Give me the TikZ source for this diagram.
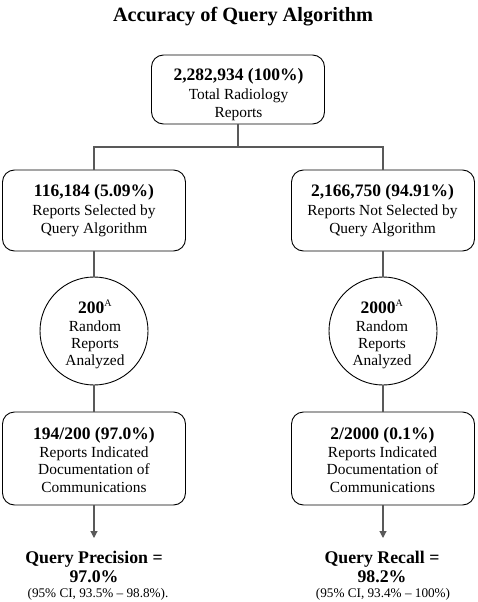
\documentclass[tikz,border=0pt]{standalone}
\usepackage{fontspec}
\setmainfont{Liberation Serif}
\usetikzlibrary{arrows.meta}
\tikzset{
  box/.style={draw=black, line width=0.9pt, rounded corners=12pt, fill=white},
  circ/.style={draw=black, line width=0.9pt, circle, minimum size=108pt, inner sep=0pt, fill=white},
  conn/.style={draw=black!65, line width=1.1pt},
  arr/.style={conn, -{Triangle[length=7pt,width=7pt]}},
  txt/.style={anchor=base, inner sep=0pt},
  bigb/.style={txt, font=\fontsize{17.5}{20}\selectfont\bfseries},
  body/.style={txt, font=\fontsize{15.4}{18}\selectfont},
  res/.style={txt, font=\fontsize{17.8}{20}\selectfont\bfseries},
  ci/.style={txt, font=\fontsize{13.2}{15}\selectfont}
}
\begin{document}
\begin{tikzpicture}[x=1pt,y=-1pt]
\useasboundingbox (0,0) rectangle (478,602);
% title
\node[txt, font=\fontsize{20.3}{24}\selectfont\bfseries] (title) at (243,22) {Accuracy of Query Algorithm};
% boxes
\node[box, minimum width=173pt, minimum height=69pt] (top) at (238,89.5) {};
\node[box, minimum width=183pt, minimum height=81pt] (l1) at (94,210.5) {};
\node[box, minimum width=183pt, minimum height=81pt] (r1) at (383,210.5) {};
\node[circ] (l2) at (94,331) {};
\node[circ] (r2) at (383,331) {};
\node[box, minimum width=183pt, minimum height=93pt] (l3) at (94,458.5) {};
\node[box, minimum width=183pt, minimum height=93pt] (r3) at (383,458.5) {};
\coordinate (split) at (238,147);
\coordinate (lend) at (94,538);
\coordinate (rend) at (383,538);
% connectors
\draw[conn] (top.south) -- (split);
\draw[conn] (l1.north) |- (split) -| (r1.north);
\draw[conn] (l1.south) -- (l2.north);
\draw[conn] (r1.south) -- (r2.north);
\draw[conn] (l2.south) -- (l3.north);
\draw[conn] (r2.south) -- (r3.north);
\draw[arr] (l3.south) -- (lend);
\draw[arr] (r3.south) -- (rend);
% texts top
\node[bigb] at (238.5,80) {2,282,934 (100\%)};
\node[body] at (238.5,99) {Total Radiology};
\node[body] at (238.5,117) {Reports};
% level 1
\node[bigb] at (94,196) {116,184 (5.09\%)};
\node[body] at (94,215) {Reports Selected by};
\node[body] at (94,233) {Query Algorithm};
\node[bigb] at (382.5,196) {2,166,750 (94.91\%)};
\node[body] at (382.5,215) {Reports Not Selected by};
\node[body] at (382.5,233) {Query Algorithm};
% circles
\node[bigb] at (95,313) {200\textsuperscript{\normalfont\fontsize{10}{10}\selectfont A}};
\node[body] at (95,331) {Random};
\node[body] at (95,348) {Reports};
\node[body] at (95,365) {Analyzed};
\node[bigb] at (382,313) {2000\textsuperscript{\normalfont\fontsize{10}{10}\selectfont A}};
\node[body] at (382,331) {Random};
\node[body] at (382,348) {Reports};
\node[body] at (382,365) {Analyzed};
% level 3
\node[bigb] at (94,439) {194/200 (97.0\%)};
\node[body] at (94,457) {Reports Indicated};
\node[body] at (94,474) {Documentation of};
\node[body] at (94,492) {Communications};
\node[bigb] at (382.5,439) {2/2000 (0.1\%)};
\node[body] at (382.5,457) {Reports Indicated};
\node[body] at (382.5,474) {Documentation of};
\node[body] at (382.5,492) {Communications};
% results
\node[res] at (94,563) {Query Precision =};
\node[res] at (94,582) {97.0\%};
\node[ci] at (98,597) {(95\% CI, 93.5\% – 98.8\%).};
\node[res] at (382,563) {Query Recall =};
\node[res] at (382,582) {98.2\%};
\node[ci] at (383,597) {(95\% CI, 93.4\% – 100\%)};
\end{tikzpicture}
\end{document}
